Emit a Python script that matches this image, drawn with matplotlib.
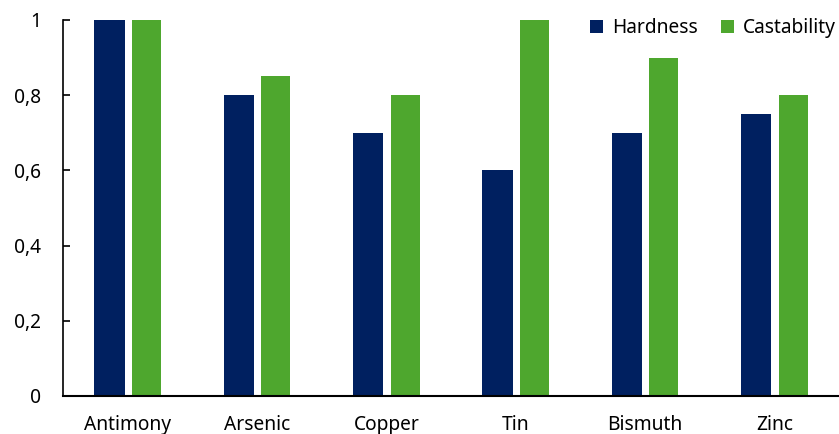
import matplotlib.pyplot as plt
import numpy as np

plt.rcParams['font.family'] = ['Noto Sans', 'DejaVu Sans']

metals = ['Antimony', 'Arsenic', 'Copper', 'Tin', 'Bismuth', 'Zinc']
hardness = [1.0, 0.8, 0.7, 0.6, 0.7, 0.75]
castability = [1.0, 0.85, 0.8, 1.0, 0.9, 0.8]
yticks = [0, 0.2, 0.4, 0.6, 0.8, 1.0]
ytick_labels = ['0', '0,2', '0,4', '0,6', '0,8', '1']

navy = '#002060'
green = '#4EA72E'

fig = plt.figure(figsize=(8.39, 4.34), dpi=100)
ax = fig.add_axes([0.0751, 0.0876, 0.9249, 0.8664])

x = np.arange(len(metals))
ax.bar(x - 0.14, hardness, width=0.235, color=navy, label='Hardness')
ax.bar(x + 0.145, castability, width=0.225, color=green, label='Castability')

ax.set_xlim(-0.5, len(metals) - 0.5)
ax.set_ylim(0, 1)
ax.set_yticks(yticks)
ax.set_yticklabels(ytick_labels)
ax.set_xticks(x)
ax.set_xticklabels(metals)

ax.spines['top'].set_visible(False)
ax.spines['right'].set_visible(False)
ax.spines['left'].set_linewidth(1.2)
ax.spines['bottom'].set_linewidth(1.5)
ax.tick_params(axis='y', direction='in', length=5, width=1.2, labelsize=13.8, pad=16)
ax.tick_params(axis='x', length=0, labelsize=13.8, pad=14)

fig.legend(loc='center left', bbox_to_anchor=(0.703, 0.935), ncol=2, frameon=False,
           fontsize=13.8, handlelength=0.7, handleheight=0.7, handletextpad=0.45,
           columnspacing=1.2, borderpad=0, borderaxespad=0)

fig.savefig('out.png', dpi=100)
